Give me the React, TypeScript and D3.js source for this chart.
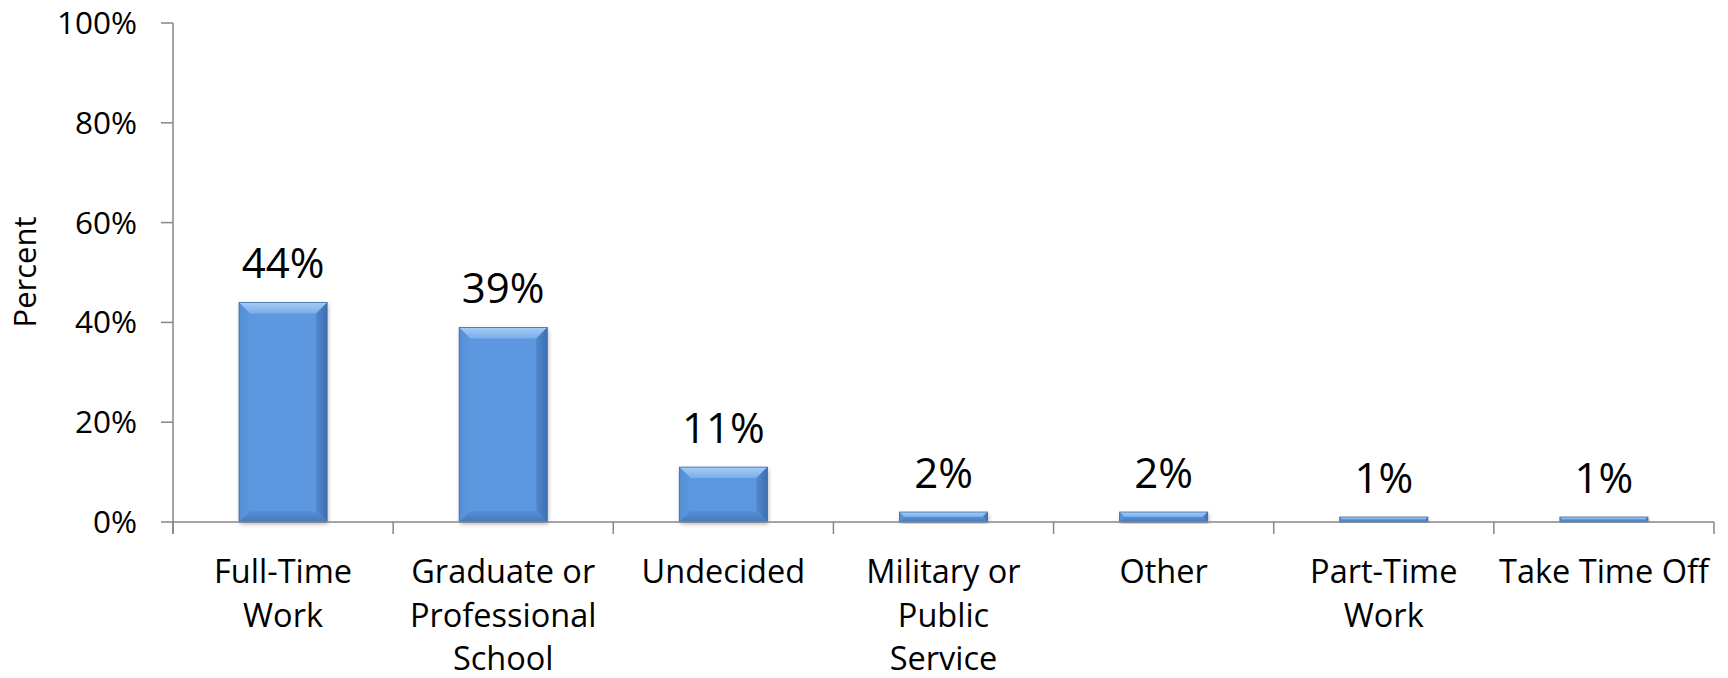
import React from "react";
import * as d3 from "d3";

const categories: string[][] = [
  ["Full-Time", "Work"],
  ["Graduate or", "Professional", "School"],
  ["Undecided"],
  ["Military or", "Public", "Service"],
  ["Other"],
  ["Part-Time", "Work"],
  ["Take Time Off"],
];
const values: number[] = [0.44, 0.39, 0.11, 0.02, 0.02, 0.01, 0.01];
const yTicks: number[] = [0, 0.2, 0.4, 0.6, 0.8, 1.0];
const yTitle = "Percent";

const W = 1728;
const H = 678;
const FONT = "'Open Sans', 'DejaVu Sans', sans-serif";
const AXIS = "#868686";

export default function App() {
  const keys = categories.map((c) => c.join(" "));
  const x = d3.scaleBand<string>().domain(keys).range([173, 1714]).padding(0);
  const y = d3.scaleLinear().domain([0, 1]).range([522, 23]);
  const fmt = d3.format(".0%");
  const bw = x.bandwidth() * 0.4;
  const boundaries = d3.range(keys.length + 1).map((i) => 173 + i * x.step());

  return (
    <svg
      width={W}
      height={H}
      style={{ position: "absolute", left: 0, top: 0, background: "#fff" }}
      fontFamily={FONT}
    >
      <defs>
        <filter id="sh" x="-20%" y="-20%" width="140%" height="140%">
          <feDropShadow dx="1" dy="2" stdDeviation="2" floodColor="#000" floodOpacity="0.3" />
        </filter>
        <linearGradient id="topBev" x1="0" y1="0" x2="0" y2="1">
          <stop offset="0" stopColor="#a6cdf5" />
          <stop offset="1" stopColor="#78aeea" />
        </linearGradient>
        <linearGradient id="leftBev" x1="0" y1="0" x2="1" y2="0">
          <stop offset="0" stopColor="#5590d6" />
          <stop offset="1" stopColor="#5b97df" />
        </linearGradient>
        <linearGradient id="rightBev" x1="0" y1="0" x2="1" y2="0">
          <stop offset="0" stopColor="#5088cf" />
          <stop offset="1" stopColor="#3e6fb0" />
        </linearGradient>
        <linearGradient id="botBev" x1="0" y1="0" x2="0" y2="1">
          <stop offset="0" stopColor="#5790d8" />
          <stop offset="1" stopColor="#4678b8" />
        </linearGradient>
      </defs>

      {/* bars */}
      {values.map((v, i) => {
        const cx = (x(keys[i]) as number) + x.bandwidth() / 2;
        const x0 = cx - bw / 2;
        const x1 = cx + bw / 2;
        const y0 = y(v);
        const y1 = y(0);
        const h = y1 - y0;
        const b = Math.min(11, h / 2, bw / 2);
        return (
          <g key={keys[i]}>
            <rect x={x0} y={y0} width={bw} height={h} fill="#5b97df" filter="url(#sh)" />
            <polygon
              points={`${x0},${y0} ${x1},${y0} ${x1 - b},${y0 + b} ${x0 + b},${y0 + b}`}
              fill="url(#topBev)"
            />
            <polygon
              points={`${x0},${y0} ${x0 + b},${y0 + b} ${x0 + b},${y1 - b} ${x0},${y1}`}
              fill="url(#leftBev)"
            />
            <polygon
              points={`${x1},${y0} ${x1},${y1} ${x1 - b},${y1 - b} ${x1 - b},${y0 + b}`}
              fill="url(#rightBev)"
            />
            <polygon
              points={`${x0},${y1} ${x0 + b},${y1 - b} ${x1 - b},${y1 - b} ${x1},${y1}`}
              fill="url(#botBev)"
            />
            <rect x={x0} y={y0} width={bw} height={h} fill="none" stroke="#3d6aa6" strokeWidth={0.8} />
            <text x={cx} y={y0 - 24} textAnchor="middle" fontSize={42} fill="#000">
              {fmt(v)}
            </text>
          </g>
        );
      })}

      {/* y axis */}
      <line x1={173} x2={173} y1={y(1)} y2={534} stroke={AXIS} strokeWidth={1.5} />
      {yTicks.map((t) => (
        <g key={t}>
          <line x1={161} x2={173} y1={y(t)} y2={y(t)} stroke={AXIS} strokeWidth={1.5} />
          <text x={137} y={y(t) + 11} textAnchor="end" fontSize={31.5} fill="#000">
            {fmt(t)}
          </text>
        </g>
      ))}

      {/* x axis */}
      <line x1={173} x2={1714} y1={y(0)} y2={y(0)} stroke={AXIS} strokeWidth={1.5} />
      {boundaries.map((bx, i) => (
        <line key={i} x1={bx} x2={bx} y1={y(0)} y2={534} stroke={AXIS} strokeWidth={1.5} />
      ))}
      {categories.map((lines, i) => {
        const cx = (x(keys[i]) as number) + x.bandwidth() / 2;
        return (
          <text key={keys[i]} textAnchor="middle" fontSize={32.5} fill="#000">
            {lines.map((ln, j) => (
              <tspan key={j} x={cx} y={583 + j * 43.5}>
                {ln}
              </tspan>
            ))}
          </text>
        );
      })}

      {/* y title */}
      <text
        transform={`translate(36,272) rotate(-90)`}
        textAnchor="middle"
        fontSize={31}
        fill="#000"
      >
        {yTitle}
      </text>
    </svg>
  );
}
